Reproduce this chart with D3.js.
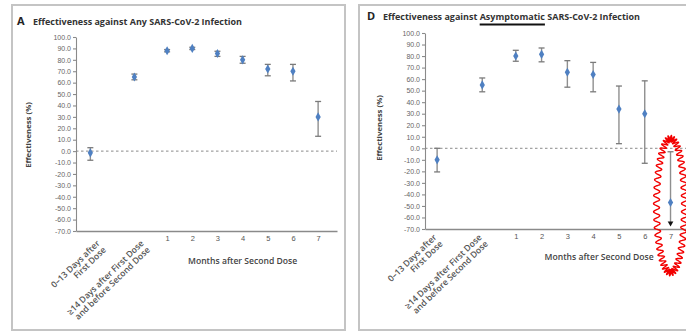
<!DOCTYPE html>
<html>
<head>
<meta charset="utf-8">
<script src="https://cdn.jsdelivr.net/npm/d3@7"></script>
<style>
  html, body { margin: 0; padding: 0; background: #fff; }
  svg { display: block; font-family: "Open Sans", "Liberation Sans", sans-serif; }
</style>
</head>
<body>
<svg id="chart" width="686" height="333"></svg>
<script>
// categories along the x axis (first two are the first-dose periods, then months after 2nd dose)
const categoryLines = [
  ["0–13 Days after", "First Dose"],
  ["≥14 Days after First Dose", "and before Second Dose"],
];
const monthTicks = [1, 2, 3, 4, 5, 6, 7];
const xAxisTitle = "Months after Second Dose";
const yTicks = d3.range(-70, 101, 10);
const yTitle = "Effectiveness (%)";

// panel A: any infection (estimate, lower and upper 95% CI)
const anyEst = [-1.5, 65, 88, 90, 85.5, 80, 72, 70, 30];
const anyLo = [-8, 62.5, 87, 89, 83, 77, 66, 61.5, 13];
const anyHi = [3, 67.5, 89, 91, 87.5, 83, 76, 76, 43.5];

// panel D: asymptomatic infection
const asymEst = [-10, 55, 80, 81.5, 66, 64, 34, 30, -47];
const asymLo = [-20.5, 49, 75.5, 75, 53, 49, 4, -13, -65];
const asymHi = [0, 61, 85, 87, 76, 74.5, 54, 58.5, -3];
const asymTruncated = [false, false, false, false, false, false, false, false, true];

// where each category sits on the month axis
const categorySlots = [-2.05, -0.3, 1, 2, 3, 4, 5, 6, 7];

const svg = d3.select("#chart");

function drawPanel(cfg) {
  const g = svg.append("g").attr("class", "panel");

  // frame
  g.append("rect")
    .attr("x", cfg.frame[0]).attr("y", cfg.frame[1])
    .attr("width", cfg.frame[2]).attr("height", cfg.frame[3])
    .attr("fill", "none").attr("stroke", "#c4c4c4").attr("stroke-width", 2);

  const x = d3.scaleLinear().domain(cfg.xDomain).range(cfg.xRange);
  const y = d3.scaleLinear().domain([-70, 100]).range(cfg.yRange);

  // title
  g.append("text")
    .attr("x", cfg.letterX).attr("y", cfg.titleY)
    .attr("font-size", 11).attr("font-weight", 700).attr("fill", "#222")
    .text(cfg.letter);
  const title = g.append("text")
    .attr("x", cfg.titleX).attr("y", cfg.titleY)
    .attr("font-size", 8.5).attr("font-weight", 700).attr("fill", "#333")
    .attr("textLength", cfg.titleW).attr("lengthAdjust", "spacingAndGlyphs");
  cfg.titleParts.forEach((p) => title.append("tspan").text(p));
  if (cfg.underline != null) {
    const node = title.node();
    const full = cfg.titleParts.join("");
    const start = full.indexOf(cfg.underline);
    const x0 = node.getStartPositionOfChar(start).x;
    const x1 = node.getEndPositionOfChar(start + cfg.underline.length - 1).x;
    g.append("line")
      .attr("x1", x0).attr("x2", x1)
      .attr("y1", cfg.titleY + 4.5).attr("y2", cfg.titleY + 4.5)
      .attr("stroke", "#111").attr("stroke-width", 2);
  }

  // y axis
  const gy = g.append("g").attr("transform", `translate(${cfg.xRange[0]},0)`)
    .call(d3.axisLeft(y).tickValues(yTicks).tickSize(3).tickSizeOuter(0).tickPadding(2)
      .tickFormat((d) => d.toFixed(1)));
  gy.selectAll("path,line").attr("stroke", "#8a8a8a").attr("stroke-width", 1.1);
  gy.selectAll("text").attr("fill", "#666").style("font-size", "7px");

  g.append("text")
    .attr("transform", `translate(${cfg.yTitleX},${cfg.yTitleY}) rotate(-90)`)
    .attr("text-anchor", "middle")
    .attr("font-size", 7.8).attr("font-weight", 700).attr("fill", "#444")
    .text(yTitle);

  // x axis: domain line and month ticks
  const gx = g.append("g").attr("transform", `translate(0,${cfg.yRange[0]})`)
    .call(d3.axisBottom(x).tickValues(monthTicks).tickSize(0).tickSizeOuter(0).tickPadding(5)
      .tickFormat((d) => String(d)));
  gx.select("path").attr("stroke", "#8a8a8a").attr("stroke-width", 1.4);
  gx.selectAll("text").attr("fill", "#555").style("font-size", "7.5px");

  g.append("text")
    .attr("x", (x(1) + x(7)) / 2 + cfg.monthsTitleDx).attr("y", cfg.yRange[0] + cfg.monthsTitleDy)
    .attr("text-anchor", "middle")
    .attr("font-size", 8.6).attr("font-weight", 600).attr("fill", "#444")
    .text(xAxisTitle);

  // rotated first-dose category labels
  categoryLines.forEach((lines, i) => {
    const t = g.append("text")
      .attr("transform", `translate(${x(categorySlots[i]) + cfg.catDx},${cfg.yRange[0] + cfg.catDy}) rotate(-44)`)
      .attr("text-anchor", "end")
      .attr("font-size", 8.6).attr("font-weight", 600).attr("fill", "#555");
    lines.forEach((ln, k) => t.append("tspan").attr("x", 0).attr("dy", k ? "1.05em" : 0).text(ln));
  });

  // zero reference line
  g.append("line")
    .attr("x1", cfg.xRange[0]).attr("x2", cfg.xRange[1])
    .attr("y1", y(0)).attr("y2", y(0))
    .attr("stroke", "#8a8a8a").attr("stroke-width", 1).attr("stroke-dasharray", "2.5,2.5");

  // error bars
  const rows = cfg.est.map((v, i) => ({
    x: x(categorySlots[i]), est: v, lo: cfg.lo[i], hi: cfg.hi[i],
    trunc: cfg.trunc ? cfg.trunc[i] : false,
  }));
  const bars = g.append("g");
  bars.selectAll("line.ci").data(rows).join("line")
    .attr("class", "ci")
    .attr("x1", (d) => d.x).attr("x2", (d) => d.x)
    .attr("y1", (d) => y(d.hi)).attr("y2", (d) => y(d.lo))
    .attr("stroke", "#8f8f8f").attr("stroke-width", 1.4);
  bars.selectAll("line.cap-hi").data(rows).join("line")
    .attr("class", "cap-hi")
    .attr("x1", (d) => d.x - 3).attr("x2", (d) => d.x + 3)
    .attr("y1", (d) => y(d.hi)).attr("y2", (d) => y(d.hi))
    .attr("stroke", "#7a7a7a").attr("stroke-width", 1.3);
  bars.selectAll("line.cap-lo").data(rows.filter((d) => !d.trunc)).join("line")
    .attr("class", "cap-lo")
    .attr("x1", (d) => d.x - 3).attr("x2", (d) => d.x + 3)
    .attr("y1", (d) => y(d.lo)).attr("y2", (d) => y(d.lo))
    .attr("stroke", "#7a7a7a").attr("stroke-width", 1.3);
  bars.selectAll("path.arrow").data(rows.filter((d) => d.trunc)).join("path")
    .attr("class", "arrow")
    .attr("transform", (d) => `translate(${d.x},${y(d.lo)}) rotate(180)`)
    .attr("d", d3.symbol(d3.symbolTriangle, 14))
    .attr("fill", "#111");
  bars.selectAll("path.dot").data(rows).join("path")
    .attr("class", "dot")
    .attr("transform", (d) => `translate(${d.x},${y(d.est)})`)
    .attr("d", d3.symbol(d3.symbolDiamond, 24))
    .attr("fill", "#4f80c2");

  return { x, y, g };
}

drawPanel({
  frame: [12, 5, 333, 325],
  xDomain: [-2.62, 7.75], xRange: [76, 337], yRange: [231, 37],
  letter: "A", letterX: 17, titleX: 33, titleY: 25, titleW: 209,
  titleParts: ["Effectiveness against Any SARS-CoV-2 Infection"],
  yTitleX: 31, yTitleY: 135,
  catDx: 10, catDy: 13, monthsTitleDx: 0, monthsTitleDy: 33,
  est: anyEst, lo: anyLo, hi: anyHi,
});

const right = drawPanel({
  frame: [359, 5, 340, 325],
  xDomain: [-2.52, 7.6], xRange: [425, 686], yRange: [229, 33],
  letter: "D", letterX: 367, titleX: 383, titleY: 20, titleW: 257,
  titleParts: ["Effectiveness against ", "Asymptomatic", " SARS-CoV-2 Infection"],
  underline: "Asymptomatic",
  yTitleX: 382, yTitleY: 128,
  catDx: 0, catDy: 9, monthsTitleDx: 6, monthsTitleDy: 31,
  est: asymEst, lo: asymLo, hi: asymHi, trunc: asymTruncated,
});

// red hand-drawn wavy ring around the last estimate of panel D
(function () {
  const cx = right.x(categorySlots[8]);
  const top = right.y(8.5), bottom = right.y(-108);
  const cy = (top + bottom) / 2, ry = (bottom - top) / 2, rx = 14;
  const waves = 52, amp = 3, steps = 1800;
  const pts = d3.range(steps + 1).map((i) => {
    const t = (i / steps) * 2 * Math.PI;
    let nx = Math.cos(t) / rx, ny = Math.sin(t) / ry;
    const len = Math.hypot(nx, ny);
    nx /= len; ny /= len;
    const w = amp * Math.sin(waves * t);
    return [cx + rx * Math.cos(t) + nx * w, cy + ry * Math.sin(t) + ny * w];
  });
  right.g.append("path")
    .attr("d", d3.line()(pts))
    .attr("fill", "none").attr("stroke", "#f20000").attr("stroke-width", 1.4);
})();
</script>
</body>
</html>
